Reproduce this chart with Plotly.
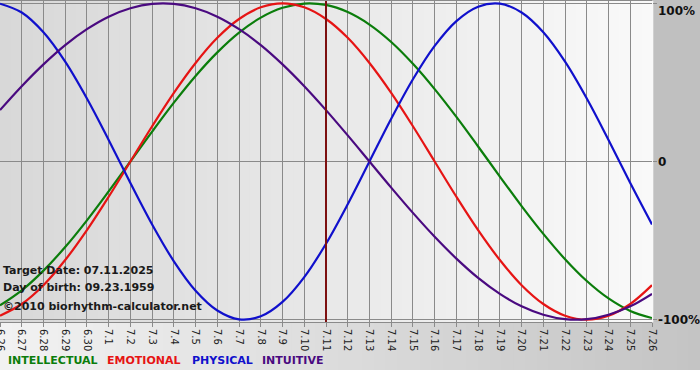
import plotly.graph_objects as go

# ---- data ----
DATES = ["6.26", "6.27", "6.28", "6.29", "6.30", "7.1", "7.2", "7.3", "7.4", "7.5",
         "7.6", "7.7", "7.8", "7.9", "7.10", "7.11", "7.12", "7.13", "7.14", "7.15",
         "7.16", "7.17", "7.18", "7.19", "7.20", "7.21", "7.22", "7.23", "7.24", "7.25", "7.26"]

INTELLECTUAL = [-0.910, -0.815, -0.690, -0.541, -0.372, -0.189, 0.000, 0.189, 0.372, 0.541,
                0.690, 0.815, 0.910, 0.972, 0.999, 0.990, 0.945, 0.866, 0.756, 0.618,
                0.458, 0.282, 0.095, -0.095, -0.282, -0.458, -0.618, -0.756, -0.866, -0.945, -0.990]
EMOTIONAL = [-0.975, -0.901, -0.782, -0.623, -0.434, -0.223, 0.000, 0.223, 0.434, 0.623,
             0.782, 0.901, 0.975, 1.000, 0.975, 0.901, 0.782, 0.623, 0.434, 0.223,
             0.000, -0.223, -0.434, -0.623, -0.782, -0.901, -0.975, -1.000, -0.975, -0.901, -0.782]
PHYSICAL = [0.998, 0.942, 0.817, 0.631, 0.398, 0.136, -0.136, -0.398, -0.631, -0.817,
            -0.942, -0.998, -0.979, -0.888, -0.731, -0.520, -0.270, 0.000, 0.270, 0.520,
            0.731, 0.888, 0.979, 0.998, 0.942, 0.817, 0.631, 0.398, 0.136, -0.136, -0.398]
INTUITIVE = [0.325, 0.476, 0.614, 0.736, 0.837, 0.916, 0.969, 0.997, 0.997, 0.969,
             0.916, 0.837, 0.736, 0.614, 0.476, 0.325, 0.165, 0.000, -0.165, -0.325,
             -0.476, -0.614, -0.736, -0.837, -0.916, -0.969, -0.997, -0.997, -0.969, -0.916, -0.837]

SERIES_NAMES = ["INTELLECTUAL", "EMOTIONAL", "PHYSICAL", "INTUITIVE"]
SERIES_COLORS = ["#0b7d0b", "#e61414", "#1010cc", "#4a0a80"]

TARGET_LABEL = "7.11"
TARGET_DATE = "07.11.2025"
BIRTH_DATE = "09.23.1959"
COPYRIGHT = "©2010 biorhythm-calculator.net"

PCT_VALUES = [1, 0, -1]
PCT_LABELS = ["100%", "0", "-100%"]

# ---- figure ----
W, H = 700, 380
ML, MR, MT, MB = 0, 48, 1, 58
PW, PH = W - ML - MR, H - MT - MB

fig = go.Figure()
for name, vals, col in zip(SERIES_NAMES, [INTELLECTUAL, EMOTIONAL, PHYSICAL, INTUITIVE], SERIES_COLORS):
    fig.add_trace(go.Scatter(x=list(range(len(DATES))), y=vals, mode="lines", name=name,
                             line=dict(color=col, width=2.2, shape="spline", smoothing=1.0),
                             showlegend=False, hoverinfo="skip"))

shapes = []


def lerp_col(c0, c1, t):
    return "rgb(%d,%d,%d)" % tuple(round(a + (b - a) * t) for a, b in zip(c0, c1))


# plot area gradient (left darker to right lighter)
N = 60
for i in range(N):
    shapes.append(dict(type="rect", xref="paper", yref="paper", x0=i / N, x1=(i + 1) / N + 0.002,
                       y0=0, y1=1, line=dict(width=0), layer="below",
                       fillcolor=lerp_col((216, 216, 216), (249, 249, 249), i / (N - 1))))
# bottom band gradient (light left, darker right)
xr = W / PW
band_bottom = -(370 - (MT + PH)) / PH
for i in range(N):
    shapes.append(dict(type="rect", xref="paper", yref="paper", x0=xr * i / N, x1=xr * (i + 1) / N + 0.002,
                       y0=band_bottom, y1=0, line=dict(width=0), layer="below",
                       fillcolor=lerp_col((242, 242, 242), (196, 196, 196), i / (N - 1))))
shapes.append(dict(type="rect", xref="paper", yref="paper", x0=0, x1=xr, y0=-MB / PH - 0.01,
                   y1=band_bottom, line=dict(width=0), fillcolor="white", layer="below"))

# target-date marker
ti = DATES.index(TARGET_LABEL)
shapes.append(dict(type="line", xref="x", yref="paper", x0=ti, x1=ti, y0=0, y1=1,
                   line=dict(color="#7d1010", width=2), layer="above"))

fig.update_layout(shapes=shapes)

annots = []
for v, lab in zip(PCT_VALUES, PCT_LABELS):
    annots.append(dict(xref="paper", yref="y", x=1, y=v, xshift=4, xanchor="left",
                       yanchor="top" if v == 1 else "middle", yshift=1 if v == 1 else 0,
                       text="<b>%s</b>" % lab, showarrow=False,
                       font=dict(family="DejaVu Sans", size=12, color="#111")))

info = ["Target Date: " + TARGET_DATE, "Day of birth: " + BIRTH_DATE, COPYRIGHT]
info_px = [270, 287, 306]
for t, py in zip(info, info_px):
    annots.append(dict(xref="paper", yref="paper", x=1 / PW, y=(MT + PH - py) / PH,
                       xanchor="left", yanchor="middle", text="<b>%s</b>" % t, showarrow=False,
                       font=dict(family="DejaVu Sans", size=11, color="#1a1a1a")))

leg_px = [6, 105, 190, 260]
for name, col, px in zip(SERIES_NAMES, SERIES_COLORS, leg_px):
    annots.append(dict(xref="paper", yref="paper", x=px / PW, y=(MT + PH - 361) / PH,
                       xanchor="left", yanchor="middle", text="<b>%s</b>" % name, showarrow=False,
                       font=dict(family="DejaVu Sans", size=11, color=col)))

fig.update_layout(
    annotations=annots,
    width=W, height=H,
    margin=dict(l=ML, r=MR, t=MT, b=MB, pad=0, autoexpand=False),
    paper_bgcolor="#c0c0c0",
    plot_bgcolor="rgba(0,0,0,0)",
    showlegend=False,
    xaxis=dict(range=[0, len(DATES) - 1], tickmode="array", tickvals=list(range(len(DATES))),
               ticktext=DATES, tickangle=90, showgrid=True, gridcolor="#8a8a8a", gridwidth=1,
               ticks="outside", ticklen=4, tickcolor="#8a8a8a", zeroline=False, automargin=False,
               ticklabeloverflow="allow",
               showline=True, linecolor="#8a8a8a", linewidth=1, mirror=True,
               tickfont=dict(family="DejaVu Sans", size=10, color="#222")),
    yaxis=dict(range=[-1.015, 1.015], side="right", tickmode="array", tickvals=PCT_VALUES,
               showticklabels=False, showgrid=True, gridcolor="#8a8a8a", gridwidth=1,
               ticks="outside", ticklen=4, tickcolor="#8a8a8a", zeroline=False, automargin=False,
               showline=False),
)

fig.write_html("out.html", config={"displayModeBar": False},
               post_script="document.body.style.margin='0';document.body.style.padding='0';")
